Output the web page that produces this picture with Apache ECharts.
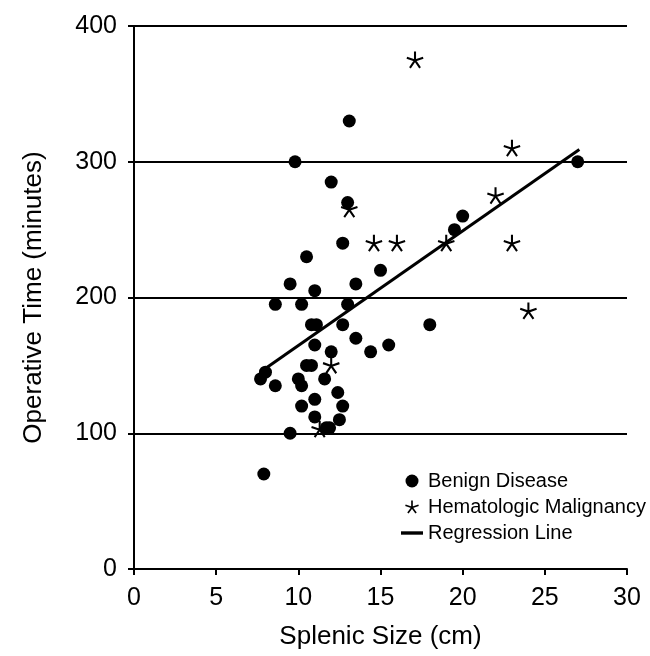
<!DOCTYPE html>
<html>
<head>
<meta charset="utf-8">
<script src="https://cdn.jsdelivr.net/npm/echarts@6/dist/echarts.min.js"></script>
<style>
  html, body { margin: 0; padding: 0; background: #fff; }
  #chart { width: 650px; height: 656px; }
</style>
</head>
<body>
<div id="chart"></div>
<script>
// splenic size (cm) vs operative time (minutes)
const benignX = [13.1, 9.8, 12, 13, 12.7, 10.5, 15, 9.5, 11, 13.5, 8.6, 10.2, 13, 10.8, 11.1, 12.7, 18, 13.5, 11, 12, 14.4, 15.5, 10.5, 10.8, 8.0, 7.7, 8.6, 10, 10.2, 11.6, 12.4, 11, 12.7, 10.2, 11, 11.7, 11.9, 12.5, 9.5, 7.9, 27, 20, 19.5]
const benignY = [330, 300, 285, 270, 240, 230, 220, 210, 205, 210, 195, 195, 195, 180, 180, 180, 180, 170, 165, 160, 160, 165, 150, 150, 145, 140, 135, 140, 135, 140, 130, 125, 120, 120, 112, 104, 104, 110, 100, 70, 300, 260, 250]
const maligX = [13.1, 14.6, 16, 12, 11.3, 17.1, 23, 22, 19, 23, 24]
const maligY = [265, 240, 240, 150, 103, 375, 310, 275, 240, 240, 190]
const regX = [7.8, 27.1]
const regY = [146, 309]
const xTicks = [0, 5, 10, 15, 20, 25, 30]
const yTicks = [0, 100, 200, 300, 400]

const FONT = 'Liberation Sans, Arial, sans-serif'

// five-armed asterisk as a filled path
function asteriskPath() {
  let d = ''
  const w = 6, len = 50
  for (let i = 0; i < 5; i++) {
    const a = (-90 + i * 72) * Math.PI / 180
    const ex = 50 + len * Math.cos(a), ey = 50 + len * Math.sin(a)
    const px = -Math.sin(a) * w, py = Math.cos(a) * w
    d += `M${50 + px},${50 + py}L${ex + px},${ey + py}L${ex - px},${ey - py}L${50 - px},${50 - py}Z`
  }
  return 'path://' + d
}
const STAR = asteriskPath()

const zip = (xs, ys) => xs.map((x, i) => [x, ys[i]])

const chart = echarts.init(document.getElementById('chart'), null, { renderer: 'canvas' })
chart.setOption({
  animation: false,
  textStyle: { fontFamily: FONT },
  grid: { left: 134, right: 23, top: 26, bottom: 87, containLabel: false },
  legend: {
    orient: 'vertical',
    left: 401,
    top: 471,
    padding: 0,
    itemGap: 6,
    itemWidth: 22,
    itemHeight: 13,
    symbolKeepAspect: true,
    textStyle: { fontFamily: FONT, fontSize: 20, color: '#000' },
    data: [
      { name: 'Benign Disease', icon: 'circle' },
      { name: 'Hematologic Malignancy', icon: STAR },
      { name: 'Regression Line', icon: 'path://M0,0h22v3.4h-22z' }
    ]
  },
  xAxis: {
    type: 'value',
    min: xTicks[0],
    max: xTicks[xTicks.length - 1],
    interval: 5,
    name: 'Splenic Size (cm)',
    nameLocation: 'middle',
    nameGap: 55,
    nameMoveOverlap: false,
    nameTextStyle: { fontFamily: FONT, fontSize: 26, color: '#000' },
    axisLine: { show: true, lineStyle: { color: '#000', width: 2 } },
    axisTick: { show: true, length: 6, lineStyle: { color: '#000', width: 2 } },
    axisLabel: { fontFamily: FONT, fontSize: 25, color: '#000', margin: 17 },
    splitLine: { show: false }
  },
  yAxis: {
    type: 'value',
    min: yTicks[0],
    max: yTicks[yTicks.length - 1],
    interval: 100,
    name: 'Operative Time (minutes)',
    nameLocation: 'middle',
    nameGap: 87,
    nameTextStyle: { fontFamily: FONT, fontSize: 26, color: '#000' },
    axisLine: { show: true, lineStyle: { color: '#000', width: 2 } },
    axisTick: { show: true, length: 6, lineStyle: { color: '#000', width: 2 } },
    axisLabel: { fontFamily: FONT, fontSize: 25, color: '#000', margin: 17 },
    splitLine: { show: true, lineStyle: { color: '#000', width: 2 } }
  },
  series: [
    {
      name: 'Benign Disease',
      type: 'scatter',
      symbol: 'circle',
      symbolSize: 13,
      itemStyle: { color: '#000', opacity: 1 },
      data: zip(benignX, benignY)
    },
    {
      name: 'Hematologic Malignancy',
      type: 'scatter',
      symbol: STAR,
      symbolSize: 17,
      itemStyle: { color: '#000', opacity: 1 },
      data: zip(maligX, maligY)
    },
    {
      name: 'Regression Line',
      type: 'line',
      symbol: 'none',
      lineStyle: { color: '#000', width: 3 },
      itemStyle: { color: '#000' },
      data: zip(regX, regY)
    }
  ]
})
</script>
</body>
</html>
